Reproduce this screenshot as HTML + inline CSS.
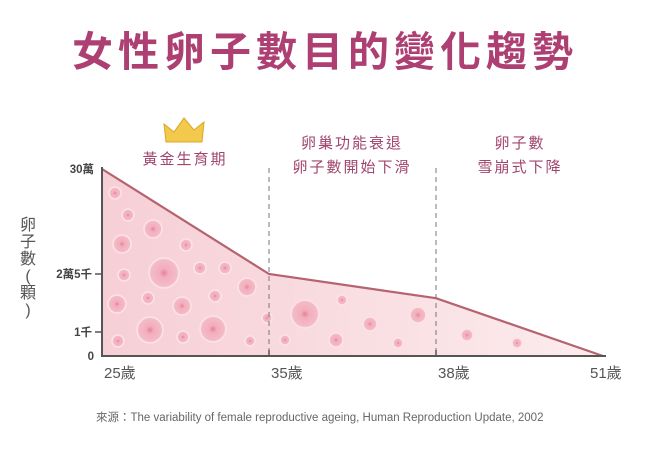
<!DOCTYPE html>
<html><head><meta charset="utf-8"><style>
html,body{margin:0;padding:0;background:#fff;}
body{width:650px;height:453px;overflow:hidden;position:relative;font-family:"Liberation Sans","Noto Sans CJK TC",sans-serif;}
.t{position:absolute;white-space:nowrap;}
</style></head><body>
<div class="t" style="left:0;width:650px;top:18px;text-align:center;font-size:41px;font-weight:bold;color:#ad3f72;letter-spacing:5px;font-family:'Liberation Sans','Noto Sans CJK TC',sans-serif;">女性卵子數目的變化趨勢</div>
<svg id="chart" width="650" height="453" style="position:absolute;left:0;top:0"></svg>
<div class="t" style="left:96px;top:409px;font-size:11.5px;color:#666;">來源：The variability of female reproductive ageing, Human Reproduction Update, 2002</div>
<script>
const ages = [25, 35, 38, 51];
const counts = [300000, 25000, 15000, 0];
const yTickValues = [0, 1000, 25000, 300000];
const yTickLabels = ["0", "1千", "2萬5千", "30萬"];
const xTickLabels = ["25歲", "35歲", "38歲", "51歲"];
const phaseLabels = [["黃金生育期"], ["卵巢功能衰退", "卵子數開始下滑"], ["卵子數", "雪崩式下降"]];

const NS = "http://www.w3.org/2000/svg";
const svg = document.getElementById("chart");
const x0 = 102, y0 = 356;
const xPix = [102, 269, 436, 603];
const yPix = [356, 332, 274, 169];
function xScale(a){
  for(let i=0;i<ages.length-1;i++){ if(a<=ages[i+1]) return xPix[i]+(a-ages[i])/(ages[i+1]-ages[i])*(xPix[i+1]-xPix[i]); }
  return xPix[xPix.length-1];
}
function yScale(v){
  for(let i=0;i<yTickValues.length-1;i++){ if(v<=yTickValues[i+1]) return yPix[i]+(v-yTickValues[i])/(yTickValues[i+1]-yTickValues[i])*(yPix[i+1]-yPix[i]); }
  return yPix[yPix.length-1];
}
function mk(tag, attrs){ const e=document.createElementNS(NS,tag); for(const k in attrs) e.setAttribute(k,attrs[k]); svg.appendChild(e); return e; }

const defs = mk("defs",{});
defs.innerHTML = '<linearGradient id="fillg" x1="0" x2="1" y1="0" y2="0"><stop offset="0" stop-color="#f6cfd5"/><stop offset="1" stop-color="#fcecee"/></linearGradient><radialGradient id="egg"><stop offset="0" stop-color="#e87f98"/><stop offset="0.3" stop-color="#f2aebd"/><stop offset="0.85" stop-color="#f4bac6"/><stop offset="1" stop-color="#f7d0d8"/></radialGradient>';

let pts = ages.map((a,i)=>xScale(a)+","+yScale(counts[i])).join(" ");
const area = mk("polygon",{points: xScale(ages[0])+","+y0+" "+pts+" "+xScale(ages[ages.length-1])+","+y0, fill:"url(#fillg)"});



const eggs=[[115,193,6],[128,215,6],[153,229,9],[122,244,9],[186,245,6],[164,273,15],[124,275,6],[200,268,6],[225,268,6],[247,287,9],[117,304,9],[148,298,6],[182,306,9],[215,296,6],[267,318,5],[150,330,13],[213,329,13],[118,341,6],[183,337,6],[250,341,5],[305,314,14],[342,300,5],[370,324,7],[336,340,7],[418,315,8],[398,343,5],[285,340,5],[467,335,6],[517,343,5]];
eggs.forEach(e=>{ const c=mk("circle",{cx:e[0],cy:e[1],r:e[2],fill:"url(#egg)",stroke:"#fbe3e7","stroke-width":1.5});

});

const line = mk("polyline",{points:pts, fill:"none", stroke:"#b5636f","stroke-width":2.2});



[1,2].forEach(i=>{ const d=mk("line",{x1:xScale(ages[i]),x2:xScale(ages[i]),y1:168,y2:y0,stroke:"#777","stroke-width":1,"stroke-dasharray":"5,4"});

});

const ax = mk("line",{x1:x0,x2:x0,y1:167,y2:y0,stroke:"#555","stroke-width":2});


const bx = mk("line",{x1:x0-1,x2:606,y1:y0,y2:y0,stroke:"#555","stroke-width":2});



yTickValues.forEach((v,i)=>{
  const y=yScale(v);
  if(i>0&&i<yTickValues.length-1){ const tk=mk("line",{x1:x0-7,x2:x0,y1:y,y2:y,stroke:"#555","stroke-width":1.5});
  
  }
  const t=mk("text",{x: i>0&&i<yTickValues.length-1? x0-10 : x0-8, y:y+4,"text-anchor":"end","font-size":11.5,fill:"#444","font-weight":"bold"});
  t.textContent=yTickLabels[i];
  
  
});
ages.forEach((a,i)=>{
  const x=xScale(a);
  if(i>0&&i<ages.length-1){ const tk=mk("line",{x1:x,x2:x,y1:y0-6,y2:y0,stroke:"#555","stroke-width":1.5});
  
  }
  const t=mk("text",{x: i===ages.length-1? x-13 : x+2, y:378,"font-size":15,fill:"#555"});
  t.textContent=xTickLabels[i];
  
  
});
const yt=["卵","子","數","(","顆",")"];
yt.forEach((ch,i)=>{ const t=mk("text",{x:28,y:230+i*17,"text-anchor":"middle","font-size":16,fill:"#555"});
t.textContent=ch;

});

const phaseCenters=[185,352,520];
const phaseTops=[[164],[148,172],[148,172]];
phaseLabels.forEach((ls,i)=>ls.forEach((s,j)=>{
  const t=mk("text",{x:phaseCenters[i],y:phaseTops[i][j],"text-anchor":"middle","font-size":15,fill:"#a0466e","letter-spacing":2});
  t.textContent=s;
  
  
}));
const cr=mk("path",{d:"M166,142 L164,124 L174,132 L184,118 L194,130 L204,122 L202,142 Z",fill:"#f2c94c",stroke:"#d9a826","stroke-width":1});


</script>
</body></html>
